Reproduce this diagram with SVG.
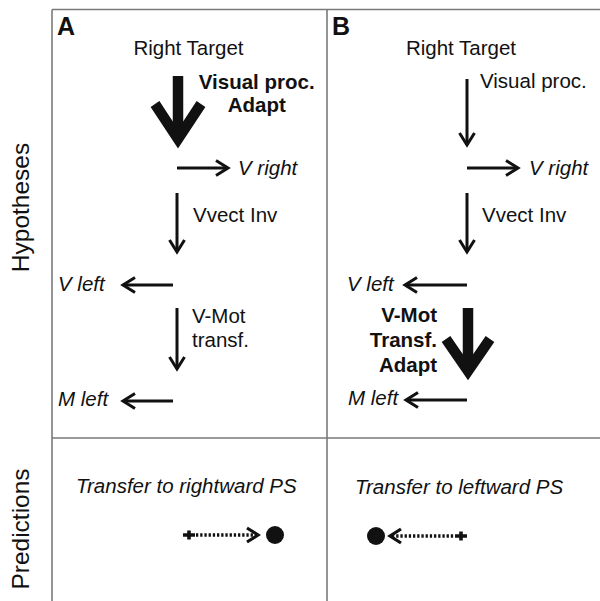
<svg xmlns="http://www.w3.org/2000/svg" width="600" height="601" viewBox="0 0 600 601">
<style>
text{font-family:"Liberation Sans",Arial,sans-serif;font-size:20.5px;fill:#111}
.b{font-weight:bold}
.i{font-style:italic}
.lab{font-size:24.5px}
.pl{font-size:25px;font-weight:bold}
.frame{stroke:#7a7a7a;stroke-width:1.6;fill:none}
.thin{stroke:#111;stroke-width:3;fill:none;marker-end:url(#head)}
.big{stroke:#111;stroke-width:10.5;fill:none;stroke-linejoin:miter;stroke-miterlimit:10}
.dot{stroke:#111;stroke-width:3.5;stroke-dasharray:2.3 1.9;fill:none}
.hd{stroke:#111;stroke-width:3.2;fill:none;stroke-linejoin:miter}
.plus{stroke:#111;stroke-width:3.6;fill:none}
</style>
<defs>
<marker id="head" markerUnits="userSpaceOnUse" viewBox="-14 -10 16 20" refX="0" refY="0" markerWidth="16" markerHeight="20" orient="auto" overflow="visible">
<path d="M-12,-7.5 L0,0 L-12,7.5" stroke="#111" stroke-width="3" fill="none"/>
</marker>
</defs>
<g id="frame">
<path class="frame" d="M52,9.5 H600 M52,9.5 V601 M327,9.5 V601 M52,438 H600"/>
</g>
<g id="side-labels">
<text class="lab" transform="translate(29,207.5) rotate(-90)" text-anchor="middle">Hypotheses</text>
<text class="lab" transform="translate(29,529) rotate(-90)" text-anchor="middle">Predictions</text>
</g>
<g id="connectors">
<path class="big" d="M178,76 V134"/>
<polyline class="big" points="155,104 178,139 201,104"/>
<line class="thin" x1="177" y1="168" x2="228" y2="168"/>
<line class="thin" x1="177" y1="193" x2="177" y2="252"/>
<line class="thin" x1="173" y1="285" x2="123" y2="285"/>
<line class="thin" x1="177" y1="308" x2="177" y2="369"/>
<line class="thin" x1="173" y1="401" x2="123" y2="401"/>
<line class="thin" x1="467" y1="79" x2="467" y2="145"/>
<line class="thin" x1="467" y1="168" x2="518" y2="168"/>
<line class="thin" x1="467" y1="193" x2="467" y2="252"/>
<line class="thin" x1="467" y1="285" x2="405" y2="285"/>
<path class="big" d="M468,308 V366"/>
<polyline class="big" points="446,339 468,371 490,339"/>
<line class="thin" x1="467" y1="400" x2="406" y2="400"/>
</g>
<g id="panelA">
<text class="pl" x="57" y="35">A</text>
<text x="188.5" y="55" text-anchor="middle">Right Target</text>
<text class="b" x="256.7" y="89" text-anchor="middle">Visual proc.</text>
<text class="b" x="256.7" y="112" text-anchor="middle">Adapt</text>
<text class="i" x="238" y="175">V right</text>
<text x="193" y="222">Vvect Inv</text>
<text class="i" x="58" y="291">V left</text>
<text x="192" y="323">V-Mot</text>
<text x="192" y="347">transf.</text>
<text class="i" x="58" y="406">M left</text>
</g>
<g id="panelB">
<text class="pl" x="332" y="35">B</text>
<text x="461" y="55" text-anchor="middle">Right Target</text>
<text x="480" y="88">Visual proc.</text>
<text class="i" x="529" y="175">V right</text>
<text x="482" y="222">Vvect Inv</text>
<text class="i" x="347" y="291">V left</text>
<text class="b" x="437" y="322" text-anchor="end">V-Mot</text>
<text class="b" x="437" y="347" text-anchor="end">Transf.</text>
<text class="b" x="437" y="372" text-anchor="end">Adapt</text>
<text class="i" x="348" y="405">M left</text>
</g>
<g id="predA">
<text class="i" x="76" y="493">Transfer to rightward PS</text>
<path class="plus" d="M183,535 H195 M189,530.5 V539.5"/>
<line class="dot" x1="196" y1="535" x2="256" y2="535"/>
<polyline class="hd" points="247,528 258,535 247,542"/>
<circle cx="275" cy="535" r="9" fill="#111"/>
</g>
<g id="predB">
<text class="i" x="355" y="494">Transfer to leftward PS</text>
<circle cx="376" cy="536" r="9" fill="#111"/>
<polyline class="hd" points="401,529 390,536 401,543"/>
<line class="dot" x1="392" y1="536" x2="454" y2="536"/>
<path class="plus" d="M455,536 H467 M461,531.5 V540.5"/>
</g>
</svg>
